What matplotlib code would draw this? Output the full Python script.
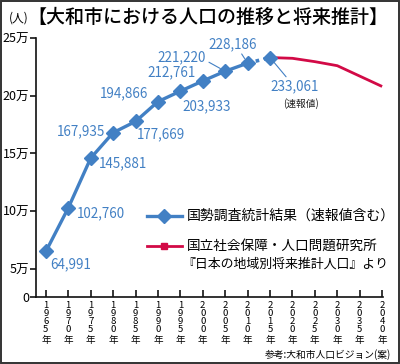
import matplotlib
matplotlib.use("Agg")
import matplotlib.pyplot as plt
import matplotlib.transforms as mtransforms
import numpy as np
from matplotlib.lines import Line2D
from matplotlib.patches import Rectangle

plt.rcParams['font.family'] = ['Noto Sans CJK JP', 'DejaVu Sans']

# ---- data ----
census_years = [1965, 1970, 1975, 1980, 1985, 1990, 1995, 2000, 2005, 2010]
census_pop = [64991, 102760, 145881, 167935, 177669, 194866, 203933, 212761, 221220, 228186]
prelim_year = 2015
prelim_pop = 233061
proj_years = [2015, 2020, 2025, 2030, 2035, 2040]
proj_pop = [233061, 232400, 229500, 226000, 217000, 208000]
ytick_vals = [0, 50000, 100000, 150000, 200000, 250000]
ytick_labels = ['0', '5万', '10万', '15万', '20万', '25万']
xtick_years = list(range(1965, 2045, 5))
label_texts = ['64,991', '102,760', '145,881', '167,935', '177,669', '194,866',
               '203,933', '212,761', '221,220', '228,186']

BLUE = '#4280c4'
RED = '#d20a46'

W, H = 400, 364
fig = plt.figure(figsize=(W / 100, H / 100), dpi=100)
ax_l, ax_r, ax_t, ax_b = 36, 383, 38, 297
ax = fig.add_axes([ax_l / W, 1 - ax_b / H, (ax_r - ax_l) / W, (ax_b - ax_t) / H])

# broken scale below 5万
K = 0.489
def fwd(y):
    y = np.asarray(y, dtype=float)
    return np.where(y >= 50000, y, 50000 - (50000 - y) * K)
def inv(y):
    y = np.asarray(y, dtype=float)
    return np.where(y >= 50000, y, 50000 - (50000 - y) / K)
ax.set_yscale('function', functions=(fwd, inv))
ax.set_ylim(0, 250000)
ax.set_xlim(1962.8, 2040.2)

# lines
ax.plot(proj_years, proj_pop, color=RED, lw=2, zorder=2, solid_capstyle='butt')
ax.plot([census_years[-1], prelim_year], [census_pop[-1], prelim_pop], color=BLUE,
        lw=2.6, ls=(0, (1, 1.3)), zorder=3)
ax.plot(census_years, census_pop, color=BLUE, lw=2.4, marker='D', ms=7.5, zorder=4)
ax.plot([prelim_year], [prelim_pop], color=BLUE, marker='D', ms=7.5, lw=0, zorder=5)

# data labels (offsets in pixels)
offs = [(4, -13, 'left'), (9, -5, 'left'), (8, -5, 'left'), (-8, 1, 'right'),
        (1, -13, 'left'), (-10, 8, 'right'), (2, -15, 'left'), (-7, 9, 'right'),
        (-19, 14, 'right'), (-15, 19, 'center')]
for i, (yr, v, t) in enumerate(zip(census_years, census_pop, label_texts)):
    dx, dy, ha = offs[i]
    kw = {}
    if i == 8:
        kw = dict(arrowprops=dict(arrowstyle='-', color=BLUE, lw=0.8, shrinkA=0,
                                  shrinkB=4, relpos=(1.0, 0.25)))
    if i == 9:
        kw = dict(arrowprops=dict(arrowstyle='-', color=BLUE, lw=0.8, shrinkA=0,
                                  shrinkB=4, relpos=(0.65, 0.0)))
    ax.annotate(t, xy=(yr, v), xytext=(dx, dy), textcoords='offset pixels',
                ha=ha, va='center', color=BLUE, fontsize=9.7, zorder=6, **kw)

ax.annotate('233,061', xy=(prelim_year, prelim_pop), xytext=(0, -29),
            textcoords='offset pixels', ha='left', va='center', color=BLUE, fontsize=9.7,
            arrowprops=dict(arrowstyle='-', color=BLUE, lw=0.8, shrinkA=0, shrinkB=4,
                            relpos=(0.38, 1.0)))
ax.annotate('(速報値)', xy=(prelim_year, prelim_pop), xytext=(31, -46),
            textcoords='offset pixels', ha='center', va='center', color='#222222',
            fontsize=7)

# axes styling
for s in ['top', 'right']:
    ax.spines[s].set_visible(False)
for s in ['left', 'bottom']:
    ax.spines[s].set_linewidth(1.2)
    ax.spines[s].set_color('#111111')
ax.set_yticks(ytick_vals)
ax.set_yticklabels(ytick_labels, fontsize=9)
ax.yaxis.set_minor_locator(matplotlib.ticker.NullLocator())
ax.tick_params(axis='y', direction='out', length=4, width=1.1, pad=1)
ax.set_xticks(xtick_years)
ax.set_xticklabels([''] * len(xtick_years))
ax.tick_params(axis='x', direction='in', length=5, width=1.1, pad=4)
ax.patch.set_alpha(0)

# vertical stacked year labels (one character per row)
row_centers = [305, 313.3, 321.6, 329.9, 340.5]
for yr in xtick_years:
    chars = list(str(yr)) + ['年']
    for c, yc in zip(chars, row_centers):
        tr = ax.get_xaxis_transform() + mtransforms.ScaledTranslation(
            0, -(yc - ax_b) / 100, fig.dpi_scale_trans)
        ax.text(yr, 0, c, transform=tr, ha='center', va='center',
                fontsize=6.9, clip_on=False)

# title and notes
fig.text(9 / W, 1 - 18 / H, '(人)', fontsize=8.5, va='center', ha='left')
fig.text(27 / W, 1 - 17 / H, '【大和市における人口の推移と将来推計】', fontsize=13.7,
         va='center', ha='left', fontweight='medium')
fig.text(391 / W, 1 - 355 / H, '参考:大和市人口ビジョン(案)', fontsize=7,
         va='center', ha='right')

# legend (manual)
def px(x, y):
    return x / W, 1 - y / H
l1 = Line2D([147 / W, 182 / W], [1 - 216 / H, 1 - 216 / H], transform=fig.transFigure,
            color=BLUE, lw=2.4)
m1 = Line2D([164 / W], [1 - 216 / H], transform=fig.transFigure, color=BLUE,
            marker='D', ms=7.5, lw=0)
l2 = Line2D([147 / W, 182 / W], [1 - 246 / H, 1 - 246 / H], transform=fig.transFigure,
            color=RED, lw=2)
m2 = Line2D([164 / W], [1 - 246 / H], transform=fig.transFigure, color=RED,
            marker='s', ms=4, lw=0)
for a in (l1, m1, l2, m2):
    fig.add_artist(a)
fig.text(*px(187, 216), '国勢調査統計結果（速報値含む）', fontsize=10, va='center')
fig.text(*px(187, 246), '国立社会保障・人口問題研究所', fontsize=9.8, va='center')
fig.text(*px(182, 264), '『日本の地域別将来推計人口』より', fontsize=9.3, va='center')

# frame
fig.add_artist(Rectangle((0.003, 0.003), 0.994, 0.994, transform=fig.transFigure,
                         fill=False, edgecolor='#333333', lw=1.4))

fig.savefig('out.png', dpi=100)
